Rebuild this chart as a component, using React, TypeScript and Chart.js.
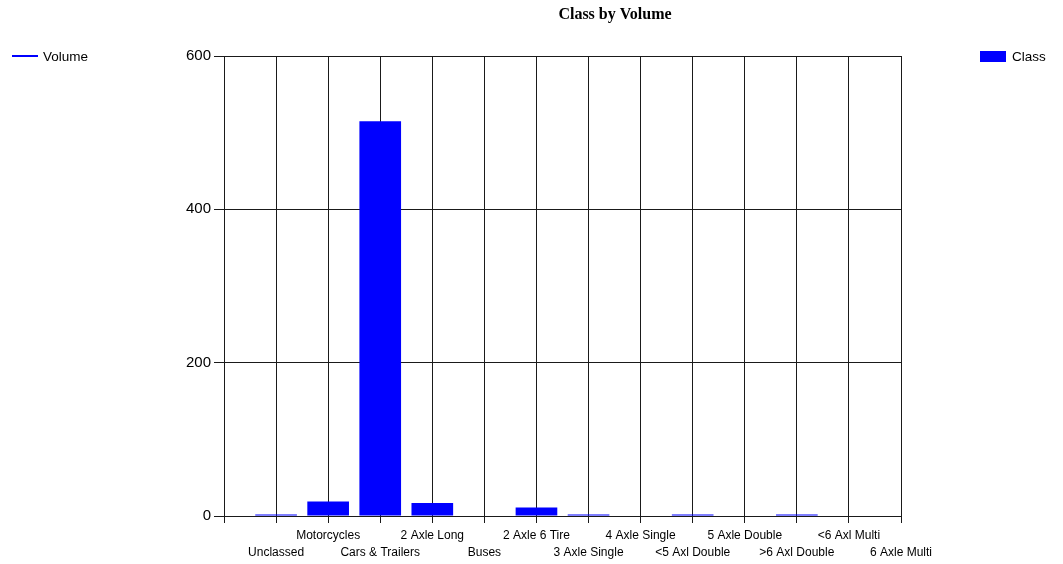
import React, { useEffect, useRef } from "react";
import { Chart, registerables } from "chart.js";

Chart.register(...registerables);

const categories = [
  "Unclassed",
  "Motorcycles",
  "Cars & Trailers",
  "2 Axle Long",
  "Buses",
  "2 Axle 6 Tire",
  "3 Axle Single",
  "4 Axle Single",
  "<5 Axl Double",
  "5 Axle Double",
  ">6 Axl Double",
  "<6 Axl Multi",
  "6 Axle Multi",
];
const classValues = [2, 19, 515, 17, 0, 11, 2, 0, 2, 0, 2, 0, 0];
const yTicks = [0, 200, 400, 600];
const titleText = "Class by Volume";
const barLegend = "Class";
const lineLegend = "Volume";

const BLUE = "#0000ff";
const GRID = "#1a1a1a";
const SANS = "'Liberation Sans', Arial, sans-serif";

const decorPlugin = {
  id: "decor",
  afterDraw(chart: any) {
    const ctx = chart.ctx;
    ctx.save();
    // title
    ctx.fillStyle = "#000";
    ctx.font = "bold 16px 'Liberation Serif', 'Times New Roman', serif";
    ctx.textAlign = "center";
    ctx.textBaseline = "middle";
    ctx.fillText(titleText, 615, 15);
    // left legend (line)
    ctx.strokeStyle = BLUE;
    ctx.lineWidth = 2;
    ctx.beginPath();
    ctx.moveTo(12, 56);
    ctx.lineTo(38, 56);
    ctx.stroke();
    ctx.font = "13.5px " + SANS;
    ctx.textAlign = "left";
    ctx.fillStyle = "#000";
    ctx.fillText(lineLegend, 43, 57);
    // right legend (box)
    ctx.fillStyle = BLUE;
    ctx.fillRect(980, 51, 26, 11);
    ctx.fillStyle = "#000";
    ctx.fillText(barLegend, 1012, 57);
    ctx.restore();
  },
};

export default function App() {
  const ref = useRef<HTMLCanvasElement | null>(null);

  useEffect(() => {
    document.body.style.margin = "0";
    const canvas = ref.current;
    if (!canvas) return;
    const labels = ["", ...categories];
    const data = [null, ...classValues];
    const chart = new Chart(canvas, {
      type: "bar",
      data: {
        labels,
        datasets: [
          {
            label: barLegend,
            data: data as any,
            backgroundColor: BLUE,
            borderWidth: 0,
            categoryPercentage: 0.8,
            barPercentage: 1.0,
          },
        ],
      },
      options: {
        animation: false,
        responsive: false,
        devicePixelRatio: 1,
        layout: { padding: { left: 0, right: 162, top: 56, bottom: 0 } },
        plugins: {
          legend: { display: false },
          title: { display: false },
          tooltip: { enabled: false },
        },
        scales: {
          x: {
            type: "category",
            offset: false,
            grid: {
              display: true,
              color: GRID,
              lineWidth: 1,
              tickLength: 7,
              drawTicks: true,
              offset: false,
            },
            border: { display: true, color: GRID, width: 1 },
            ticks: {
              autoSkip: false,
              maxRotation: 0,
              minRotation: 0,
              padding: 4,
              color: "#000",
              font: { family: SANS, size: 12, lineHeight: 1.4 },
              callback: function (this: any, value: any, index: number) {
                const l = labels[index];
                if (!l) return "";
                return index % 2 === 1 ? ["", l] : [l, ""];
              },
            },
            afterFit(scale: any) {
              scale.height = 48;
            },
          },
          y: {
            min: 0,
            max: 600,
            afterBuildTicks(scale: any) {
              scale.ticks = yTicks.map((v) => ({ value: v }));
            },
            grid: {
              display: true,
              color: GRID,
              lineWidth: 1,
              tickLength: 10,
              drawTicks: true,
            },
            border: { display: true, color: GRID, width: 1 },
            ticks: {
              padding: 3,
              color: "#000",
              font: { family: SANS, size: 15 },
            },
            afterFit(scale: any) {
              scale.width = 224;
            },
          },
        },
      },
      plugins: [decorPlugin],
    } as any);
    return () => chart.destroy();
  }, []);

  return (
    <div style={{ width: 1063, height: 564, background: "#fff" }}>
      <canvas ref={ref} width={1063} height={564} />
    </div>
  );
}
